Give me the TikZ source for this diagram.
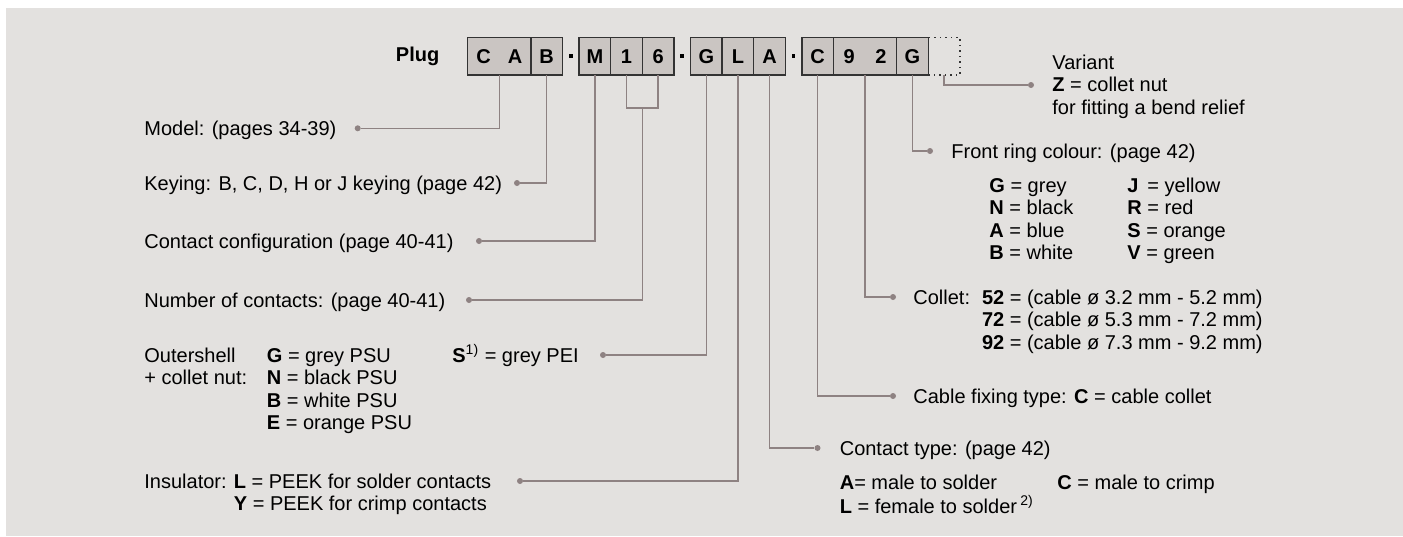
\documentclass[tikz,border=0pt]{standalone}
\usepackage{fontspec}
\setmainfont{Liberation Sans}
\usetikzlibrary{calc,positioning}
\definecolor{panel}{HTML}{E3E1DF}
\definecolor{cellgrey}{HTML}{CAC5C2}
\definecolor{wirecol}{HTML}{8E8282}
\definecolor{edgecol}{HTML}{333333}
\newcommand{\twin}[2]{\makebox[15.8pt]{#1}\makebox[15.8pt]{#2}}
\newcommand{\rows}[1]{\begin{tabular}[t]{@{}l@{}}#1\end{tabular}}
\tikzset{
  cell/.style={
    draw=edgecol,
    line width=0.75pt,
    fill=cellgrey,
    inner sep=0pt,
    outer sep=0pt,
    minimum width=15.8pt,
    minimum height=18.85pt,
    font=\bfseries
  },
  wide/.style={
    cell,
    minimum width=31.6pt
  },
  spare/.style={
    cell,
    fill=none,
    dotted
  },
  sepdot/.style={
    fill=black,
    inner sep=0pt,
    outer sep=0pt,
    minimum size=1.8pt
  },
  wire/.style={
    draw=wirecol,
    line width=0.65pt
  },
  pin/.style={
    circle,
    fill=wirecol,
    inner sep=0pt,
    minimum size=3pt
  },
  lbl/.style={
    anchor=base west,
    inner sep=0pt,
    font=\fontsize{10}{11.3}\selectfont
  }
}

\begin{document}
\begin{tikzpicture}[x=0.5pt, y=-0.5pt]
  \useasboundingbox (0,0) rectangle (1403,536);
  \fill[panel] (6,8) rectangle (1403,536);

  % order code
  \node[wide, anchor=north west] (ca) at (467.7,37.3) {\twin{C}{A}};
  \node[cell, right=0pt of ca] (key) {B};
  \node[sepdot, right=3.25pt of key] (s1) {};
  \node[cell, right=3.25pt of s1] (conf) {M};
  \node[cell, right=0pt of conf] (one) {1};
  \node[cell, right=0pt of one] (six) {6};
  \node[sepdot, right=3.25pt of six] (s2) {};
  \node[cell, right=3.25pt of s2] (shell) {G};
  \node[cell, right=0pt of shell] (ins) {L};
  \node[cell, right=0pt of ins] (cont) {A};
  \node[sepdot, right=3.25pt of cont] (s3) {};
  \node[cell, right=3.25pt of s3] (fix) {C};
  \node[wide, right=0pt of fix] (col) {\twin{9}{2}};
  \node[cell, right=0pt of col] (ring) {G};
  \node[spare, right=0pt of ring] (var) {};
  \node[left=14pt of ca, font=\bfseries, inner sep=0pt] (plug) {Plug};

  % pins
  \node[pin] (pModel) at (357.7,128.3) {};
  \node[pin] (pKey) at (517,183) {};
  \node[pin] (pConf) at (479,241) {};
  \node[pin] (pCount) at (469,300) {};
  \node[pin] (pShell) at (603,355) {};
  \node[pin] (pIns) at (520,481) {};
  \node[pin] (pVar) at (1031,85) {};
  \node[pin] (pRing) at (930,151) {};
  \node[pin] (pCol) at (893,297) {};
  \node[pin] (pFix) at (893,396) {};
  \node[pin] (pCont) at (817.5,448) {};

  % left labels
  \node[lbl] (lModel) at (144,135) {Model: (pages 34-39)};
  \node[lbl] (lKey) at (144,190) {Keying: B, C, D, H or J keying (page 42)};
  \node[lbl] (lConf) at (144,248) {Contact configuration (page 40-41)};
  \node[lbl] (lCount) at (144,307) {Number of contacts: (page 40-41)};
  \node[lbl] (lShell) at (144,362) {\rows{Outershell\\+ collet nut:}};
  \node[lbl] (lShellA) at (266.5,362) {\rows{\textbf{G} = grey PSU\\\textbf{N} = black PSU\\
    \textbf{B} = white PSU\\\textbf{E} = orange PSU}};
  \node[lbl] (lShellS) at (452,362) {\textbf{S}\textsuperscript{1)} = grey PEI};
  \node[lbl] (lIns) at (144,488) {Insulator:};
  \node[lbl] (lInsA) at (233.5,488) {\rows{\textbf{L} = PEEK for solder contacts\\
    \textbf{Y} = PEEK for crimp contacts}};

  % right labels
  \node[lbl] (lVar) at (1052,69) {\rows{Variant\\\textbf{Z} = collet nut\\for fitting a bend relief}};
  \node[lbl] (lRing) at (951,158) {Front ring colour: (page 42)};
  \node[lbl] (lRingA) at (989,192) {\rows{\textbf{G} = grey\\\textbf{N} = black\\\textbf{A} = blue\\\textbf{B} = white}};
  \node[lbl] (lRingB) at (1127,192) {\rows{\textbf{J}\, = yellow\\\textbf{R} = red\\\textbf{S} = orange\\\textbf{V} = green}};
  \node[lbl] (lCol) at (913,304) {Collet:};
  \node[lbl] (lColA) at (981.6,304) {\rows{\textbf{52} = (cable ø 3.2 mm - 5.2 mm)\\
    \textbf{72} = (cable ø 5.3 mm - 7.2 mm)\\\textbf{92} = (cable ø 7.3 mm - 9.2 mm)}};
  \node[lbl] (lFix) at (913,403) {Cable fixing type: \textbf{C} = cable collet};
  \node[lbl] (lCont) at (839.4,455) {Contact type: (page 42)};
  \node[lbl] (lContA) at (839.4,489) {\rows{\textbf{A}= male to solder\\
    \textbf{L} = female to solder\,\textsuperscript{2)}}};
  \node[lbl] (lContB) at (1057,489) {\textbf{C} = male to crimp};

  % connectors
  \path (one.south) ++(0,33) coordinate (b1);
  \path (six.south) ++(0,33) coordinate (b6);
  \coordinate (brk) at ($(b1)!.5!(b6)$);
  \draw[wire] (one.south) -- (b1) -- (b6) -- (six.south);
  \draw[wire] (ca.south) |- (pModel);
  \draw[wire] (key.south) |- (pKey);
  \draw[wire] (conf.south) |- (pConf);
  \draw[wire] (brk) |- (pCount);
  \draw[wire] (shell.south) |- (pShell);
  \draw[wire] (ins.south) |- (pIns);
  \draw[wire] (var.south) |- (pVar);
  \draw[wire] (ring.south) |- (pRing);
  \draw[wire] (col.south) |- (pCol);
  \draw[wire] (fix.south) |- (pFix);
  \draw[wire] (cont.south) |- (pCont);
\end{tikzpicture}
\end{document}
